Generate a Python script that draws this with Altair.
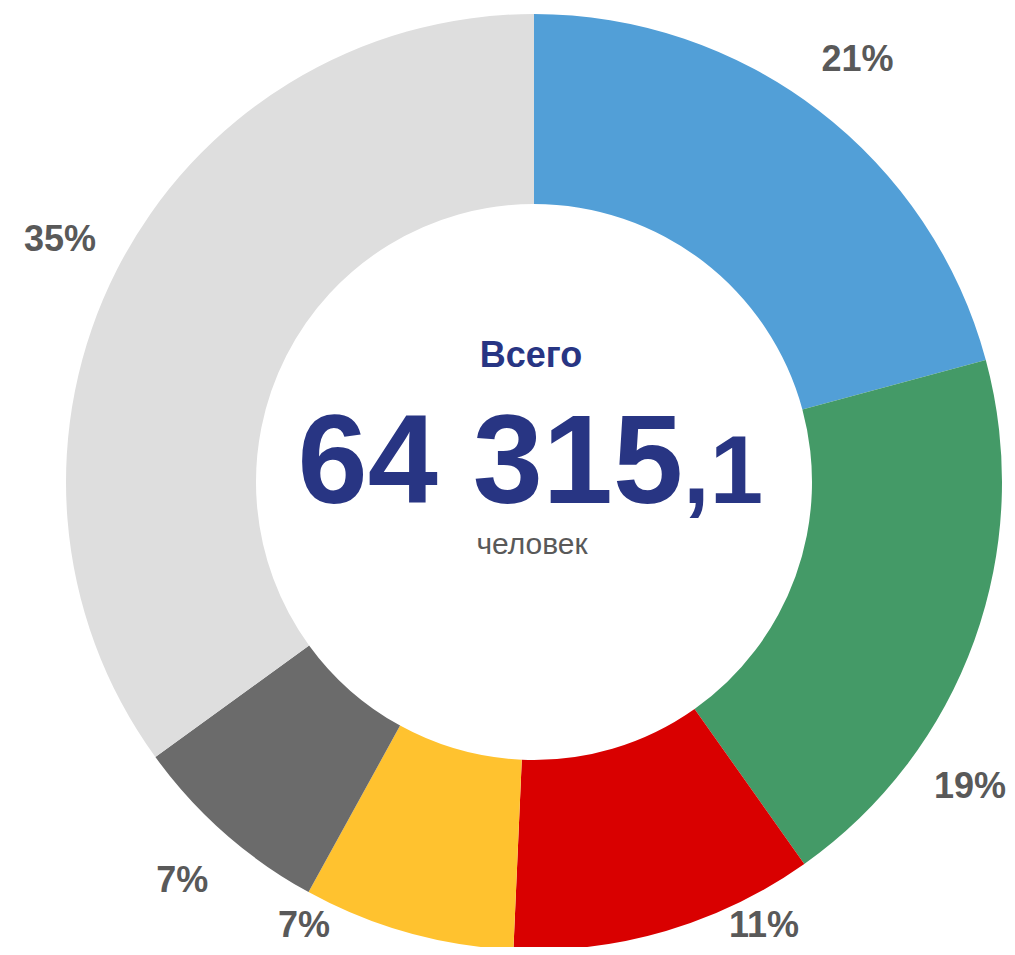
import altair as alt
import pandas as pd

categories = ["A", "B", "C", "D", "E", "F"]
shares = [20.8, 19.4, 10.5, 7.3, 7.0, 35.0]
labels = ["21%", "19%", "11%", "7%", "7%", "35%"]
colors = ["#529FD7", "#449A67", "#D90000", "#FFC22F", "#6B6B6B", "#DEDEDE"]

center_title = "Всего"
total_int = "64 315"
total_dec = ",1"
unit = "человек"

W, H = 999, 939
CX, CY = 526, 474
R_OUT, R_IN = 468, 278
R_LAB = 532
R_BOT = 500    # circle along which bottom labels slide sideways
DX_MAX = 436   # label centre may go this far right of centre
DX_MIN = 482   # ... left of centre
DY_MAX = 444   # ... below centre

df = pd.DataFrame({
    "cat": categories,
    "value": shares,
    "label": labels,
    "idx": list(range(len(categories))),
})

base = alt.Chart(df)

arcs = base.mark_arc(outerRadius=R_OUT, innerRadius=R_IN, stroke=None).encode(
    theta=alt.Theta("value:Q", stack=True),
    order=alt.Order("idx:Q"),
    color=alt.Color("cat:N", scale=alt.Scale(domain=categories, range=colors), legend=None),
    x=alt.value(CX),
    y=alt.value(CY),
)

R2 = R_LAB * R_LAB
lab = base.transform_joinaggregate(
    total="sum(value)"
).transform_window(
    cum="sum(value)", sort=[alt.SortField("idx")]
).transform_calculate(
    ang="2*PI*(datum.cum - datum.value/2)/datum.total"
).transform_calculate(
    dx0=f"{R_LAB}*sin(datum.ang)",
    dy0=f"-{R_LAB}*cos(datum.ang)",
).transform_calculate(
    dx1=f"datum.dy0 > {DY_MAX} ? (datum.dx0 < 0 ? -1 : 1)*sqrt({R_BOT*R_BOT}-{DY_MAX}*{DY_MAX}) : datum.dx0",
    dy1=f"min(datum.dy0, {DY_MAX})",
).transform_calculate(
    dx2=f"datum.dx1 > {DX_MAX} ? {DX_MAX} : (datum.dx1 < -{DX_MIN} ? -{DX_MIN} : datum.dx1)",
    dy2=(f"datum.dx1 > {DX_MAX} ? (datum.dy1 < 0 ? -1 : 1)*sqrt({R2}-{DX_MAX}*{DX_MAX}) : "
         f"(datum.dx1 < -{DX_MIN} ? (datum.dy1 < 0 ? -1 : 1)*sqrt({R2}-{DX_MIN}*{DX_MIN}) : datum.dy1)"),
).transform_calculate(
    lx=f"{CX} + datum.dx2",
    ly=f"{CY} + datum.dy2",
).mark_text(
    font="Liberation Sans", fontWeight="bold", fontSize=36, color="#595959",
    align="center", baseline="middle",
).encode(
    x=alt.X("lx:Q", scale=None, axis=None),
    y=alt.Y("ly:Q", scale=None, axis=None),
    text="label:N",
)

one = alt.Chart(pd.DataFrame({"t": [center_title], "i": [total_int], "d": [total_dec], "u": [unit]}))

t_title = one.mark_text(font="Liberation Sans", fontWeight="bold", fontSize=36, color="#283583",
                        align="center", baseline="alphabetic").encode(
    text="t:N", x=alt.value(523), y=alt.value(359))
t_int = one.mark_text(font="Liberation Sans", fontWeight="bold", fontSize=126, color="#283583",
                      align="right", baseline="alphabetic").encode(
    text="i:N", x=alt.value(675), y=alt.value(495))
t_dec = one.mark_text(font="Liberation Sans", fontWeight="bold", fontSize=96, color="#283583",
                      align="left", baseline="alphabetic").encode(
    text="d:N", x=alt.value(675), y=alt.value(495))
t_unit = one.mark_text(font="Liberation Sans", fontSize=30, color="#595959",
                       align="center", baseline="alphabetic").encode(
    text="u:N", x=alt.value(524), y=alt.value(546))

chart = alt.layer(arcs, lab, t_title, t_int, t_dec, t_unit).properties(
    width=W, height=H, padding=0, autosize="none"
).configure_view(stroke=None)

chart.save("out.html", embed_options={"renderer": "svg", "actions": False})
